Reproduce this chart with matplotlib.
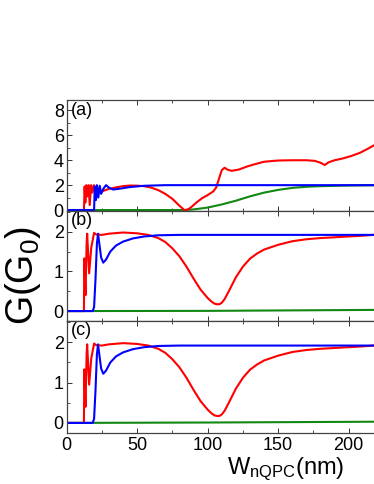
import matplotlib
matplotlib.use("Agg")
import matplotlib.pyplot as plt
from matplotlib.ticker import MultipleLocator

plt.rcParams['font.family'] = ['Liberation Sans', 'DejaVu Sans']
plt.rcParams['mathtext.fontset'] = 'custom'
plt.rcParams['mathtext.rm'] = 'Liberation Sans'
plt.rcParams['mathtext.it'] = 'Liberation Sans'

# ---------------- data ----------------
# panel (a)
a_red_x = [0, 12.3, 12.8, 13.3, 14.0, 14.8, 15.6, 16.4, 17.4, 18.3, 19.4, 20.4, 21.4, 23, 25, 30, 35, 40,
           45, 50, 55, 60, 65, 70, 75, 80, 83.5, 86, 88, 92, 96, 100, 104, 106, 108, 110, 112, 114, 117,
           122, 128, 134, 140, 150, 160, 170, 176, 180, 183, 186, 190, 196, 202, 208, 214, 221]
a_red_y = [0, 0, 1.9, 0.6, 2.0, 1.1, 2.0, 0.4, 2.0, 1.4, 2.0, 1.35, 1.9, 1.45, 1.5, 1.7, 1.82, 1.92,
           1.97, 1.96, 1.92, 1.8, 1.6, 1.3, 0.9, 0.35, 0.0, 0.05, 0.2, 0.6, 0.95, 1.2, 1.5, 1.8, 2.5,
           3.2, 3.4, 3.25, 3.15, 3.25, 3.5, 3.7, 3.88, 3.98, 4.0, 4.0, 3.95, 3.8, 3.62, 3.85, 4.0, 4.15,
           4.35, 4.6, 4.95, 5.4]
a_blue_x = [0, 19.5, 20.0, 20.8, 21.5, 22.5, 23.5, 24.5, 26, 28, 30, 33, 38, 45, 55, 70, 221]
a_blue_y = [0, 0, 1.9, 0.8, 2.0, 1.0, 1.95, 1.3, 1.7, 2.0, 1.8, 1.65, 1.72, 1.85, 1.95, 2.0, 2.0]
a_green_x = [0, 84, 90, 100, 110, 120, 130, 140, 150, 160, 170, 180, 200, 221]
a_green_y = [0, 0, 0.05, 0.2, 0.45, 0.75, 1.1, 1.4, 1.62, 1.78, 1.87, 1.92, 1.97, 2.0]

# panel (b)
b_red_x = [0, 12.3, 12.6, 13.4, 14.2, 14.6, 16.0, 17.5, 19.5, 21, 25, 30, 40, 50, 58, 65, 70, 75, 80,
           85, 90, 95, 100, 103, 105, 107, 108.5, 110, 112, 115, 120, 125, 130, 135, 140, 150, 160,
           170, 180, 190, 200, 210, 221]
b_red_y = [0, 0, 1.33, 0.4, 1.7, 1.95, 0.95, 1.6, 1.97, 1.93, 1.92, 1.95, 1.98, 1.96, 1.92, 1.84,
           1.74, 1.58, 1.38, 1.12, 0.82, 0.54, 0.33, 0.23, 0.185, 0.17, 0.175, 0.21, 0.3, 0.5, 0.85,
           1.12, 1.32, 1.45, 1.55, 1.67, 1.76, 1.81, 1.84, 1.86, 1.88, 1.9, 1.93]
b_blue_x = [0, 18.5, 19.5, 20.5, 21.5, 22.3, 23.2, 24.5, 26, 28, 31, 35, 40, 47, 55, 65, 80, 221]
b_blue_y = [0, 0, 0.1, 0.8, 1.7, 1.95, 1.7, 1.35, 1.22, 1.3, 1.5, 1.65, 1.75, 1.83, 1.88, 1.91,
            1.92, 1.92]
b_green_x = [0, 100, 221]
b_green_y = [0, 0.005, 0.03]

# panel (c)
c_red_x = list(b_red_x)
c_red_y = list(b_red_y)
c_blue_x = list(b_blue_x)
c_blue_y = list(b_blue_y)
c_green_x = [0, 100, 221]
c_green_y = [0, 0.01, 0.03]

x_ticks = [0, 50, 100, 150, 200]
a_yticks = [0, 2, 4, 6, 8]
bc_yticks = [0, 1, 2]
panel_labels = ['(a)', '(b)', '(c)']

RED = '#ff0000'
BLUE = '#0000ff'
GREEN = '#118811'

fig = plt.figure(figsize=(3.74, 4.84), dpi=100)
left = 0.178
width = 1.0116 - left
pos = [(0.5647, 0.7924), (0.3368, 0.5647), (0.1054, 0.3368)]
axes = [fig.add_axes([left, b, width, t - b]) for (b, t) in pos]

data = [
    (a_red_x, a_red_y, a_blue_x, a_blue_y, a_green_x, a_green_y),
    (b_red_x, b_red_y, b_blue_x, b_blue_y, b_green_x, b_green_y),
    (c_red_x, c_red_y, c_blue_x, c_blue_y, c_green_x, c_green_y),
]

for i, ax in enumerate(axes):
    rx, ry, bx, by, gx, gy = data[i]
    ax.plot(gx, gy, color=GREEN, lw=1.5)
    ax.plot(rx, ry, color=RED, lw=1.5)
    ax.plot(bx, by, color=BLUE, lw=1.5)
    ax.set_xlim(0, 221)
    ax.set_xticks(x_ticks)
    ax.xaxis.set_minor_locator(MultipleLocator(25))
    if i == 0:
        ax.set_ylim(-0.05, 8.8)
        ax.set_yticks(a_yticks)
        ax.yaxis.set_minor_locator(MultipleLocator(1))
    else:
        ax.set_ylim(-0.25, 2.53)
        ax.set_yticks(bc_yticks)
        ax.yaxis.set_minor_locator(MultipleLocator(0.5))
    ax.tick_params(which='both', direction='in', top=True, bottom=True, left=True, right=False,
                   labelsize=13, colors='#333333', labelcolor='black')
    ax.tick_params(axis='y', pad=2)
    ax.tick_params(axis='x', pad=3)
    ax.tick_params(which='major', length=3.5, width=0.7)
    ax.tick_params(which='minor', length=2, width=0.6)
    if i < 2:
        ax.tick_params(labelbottom=False)
    for s in ax.spines.values():
        s.set_color('#444444')
        s.set_linewidth(0.9)
    ax.text(0.015, 0.99, panel_labels[i], transform=ax.transAxes, ha='left', va='top',
            fontsize=13)

fig.text(0.062, 0.43, r'G(G$_{\mathregular{0}}$)', rotation=90, ha='center', va='center',
         fontsize=27)
fig.text(0.765, 0.002, r'W$_{\mathregular{nQPC}}$(nm)', ha='center', va='bottom', fontsize=17)

fig.savefig('out.png', dpi=100)
